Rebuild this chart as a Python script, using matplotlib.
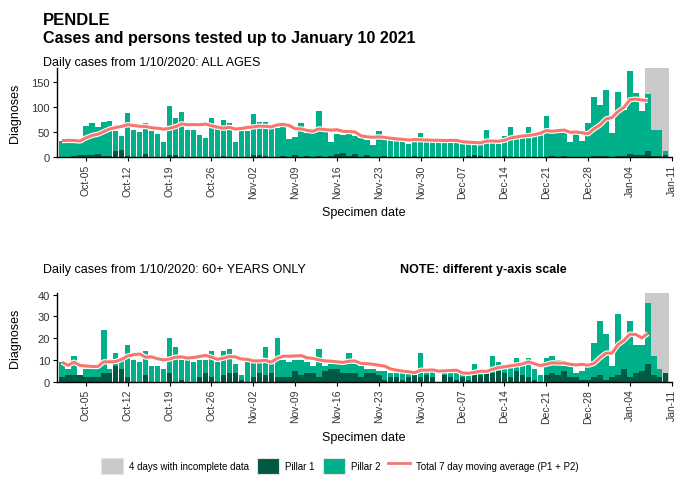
import numpy as np
import pandas as pd
import matplotlib
matplotlib.use('Agg')
import matplotlib.pyplot as plt
import matplotlib.dates as mdates
import matplotlib.patheffects as pe
from matplotlib.patches import Patch
from matplotlib.lines import Line2D

plt.rcParams['font.family'] = ['Liberation Sans', 'DejaVu Sans']

days = pd.date_range('2020-10-01', '2021-01-10', freq='D')
tick_days = pd.date_range('2020-10-05', '2021-01-11', freq='7D')

# daily totals (pillar 1 + pillar 2), all ages
all_total = [33, 34, 33, 29, 63, 67, 61, 69, 72, 53, 43,
             88, 55, 50, 67, 53, 47, 30,
             101, 77, 89, 55, 55, 45, 39,
             78, 58, 73, 68, 31, 53, 53,
             85, 70, 70, 60, 58, 61, 37,
             40, 68, 49, 49, 91, 50, 30,
             46, 45, 47, 43, 38, 35, 24,
             52, 36, 36, 34, 32, 26, 30,
             49, 33, 33, 32, 30, 28, 29,
             30, 28, 28, 27, 55, 29, 26,
             42, 61, 41, 41, 61, 42, 44,
             81, 51, 51, 48, 30, 46, 33,
             67, 120, 104, 133, 48, 129, 93,
             172, 128, 92, 125, 55, 55, 12]
all_p1 = [1, 1, 2, 4, 5, 4, 6, 3, 2, 12, 14,
          2, 1, 1, 6, 1, 1, 1,
          4, 4, 1, 1, 1, 1, 1,
          1, 1, 2, 1, 1, 1, 1,
          5, 4, 2, 1, 1, 2, 1,
          4, 1, 3, 1, 2, 1, 2,
          6, 8, 2, 6, 1, 4, 1,
          1, 3, 1, 1, 1, 1, 2,
          1, 1, 1, 1, 0, 1, 1,
          1, 2, 5, 3, 1, 1, 1,
          2, 1, 1, 1, 1, 1, 1,
          1, 2, 1, 3, 1, 1, 1,
          1, 2, 2, 3, 1, 2, 3,
          6, 4, 5, 12, 2, 2, 5]

# daily totals, 60+ years
old_total = [9, 6, 12, 3, 6, 6, 7, 24, 6, 13, 10,
             17, 10, 9, 14, 7, 7, 6,
             20, 16, 10, 10, 9, 10, 10,
             14, 9, 14, 15, 8, 3, 9,
             9, 9, 16, 9, 20, 10, 9,
             10, 10, 9, 7, 15, 7, 8,
             8, 8, 13, 8, 7, 6, 6,
             5, 5, 4, 4, 4, 4, 3,
             13, 5, 5, 0, 5, 5, 4,
             4, 4, 8, 4, 4, 12, 9,
             7, 7, 11, 7, 11, 6, 3,
             11, 12, 10, 7, 7, 4, 5,
             8, 18, 28, 22, 7, 31, 19,
             28, 17, 17, 36, 12, 6, 4]
old_p1 = [2, 3, 3, 3, 2, 2, 2, 4, 4, 7, 6,
          2, 0, 0, 3, 0, 0, 0,
          4, 0, 1, 0, 0, 2, 4,
          2, 0, 3, 4, 4, 1, 0,
          2, 4, 3, 4, 2, 2, 2,
          5, 3, 4, 4, 2, 5, 6,
          6, 4, 4, 4, 2, 4, 4,
          3, 1, 2, 2, 1, 2, 3,
          2, 3, 2, 0, 3, 2, 1,
          2, 1, 4, 3, 4, 4, 5,
          4, 2, 5, 3, 2, 1, 0,
          3, 4, 3, 5, 2, 2, 1,
          1, 2, 3, 1, 2, 3, 6,
          2, 4, 5, 8, 3, 2, 4]

incomplete_from = pd.Timestamp('2021-01-06 12:00')
incomplete_to = pd.Timestamp('2021-01-10 12:00')
ma_until = pd.Timestamp('2021-01-07')

col_p1 = '#005a43'
col_p2 = '#00b08a'
col_grey = '#cacaca'
col_line = '#f8766d'


def draw_panel(ax, total, p1, ymax, yticks):
    total = np.array(total, dtype=float)
    p1 = np.array(p1, dtype=float)
    p2 = total - p1
    ax.axvspan(incomplete_from, incomplete_to, color=col_grey, lw=0, zorder=0)
    ax.bar(days, p1, width=0.9, color=col_p1, lw=0, zorder=2)
    ax.bar(days, p2, bottom=p1, width=0.9, color=col_p2, lw=0, zorder=2)
    ma = pd.Series(total, index=days).rolling(7, min_periods=1).mean()
    ma = ma[:ma_until]
    ax.plot(ma.index, ma.values, color=col_line, lw=2.2, zorder=3,
            solid_capstyle='butt',
            path_effects=[pe.Stroke(linewidth=3.8, foreground='white'), pe.Normal()])
    ax.set_xlim(days[0] - pd.Timedelta(hours=20), pd.Timestamp('2021-01-11 01:00'))
    ax.set_ylim(0, ymax)
    ax.set_yticks(yticks)
    ax.set_xticks(tick_days)
    ax.xaxis.set_major_formatter(mdates.DateFormatter('%b-%d'))
    ax.tick_params(axis='x', rotation=90, labelsize=7.5, length=3, width=0.8,
                   colors='black', labelcolor='#333333', pad=2)
    ax.tick_params(axis='y', labelsize=8, length=3, width=0.8,
                   colors='black', labelcolor='#333333', pad=2)
    for s in ['top', 'right']:
        ax.spines[s].set_visible(False)
    for s in ['left', 'bottom']:
        ax.spines[s].set_linewidth(1.0)
    ax.set_facecolor('white')


W, H = 674, 485
fig = plt.figure(figsize=(W / 100, H / 100), dpi=100)

ax1 = fig.add_axes([57 / W, (H - 158.3) / H, 615 / W, 89.3 / H])
ax2 = fig.add_axes([57 / W, (H - 382.7) / H, 615 / W, 88.7 / H])

draw_panel(ax1, all_total, all_p1, 177, [0, 50, 100, 150])
draw_panel(ax2, old_total, old_p1, 40.8, [0, 10, 20, 30, 40])

# titles and subtitles
fig.text(43 / W, (H - 25) / H, 'PENDLE', fontsize=12, fontweight='bold')
fig.text(43 / W, (H - 42.5) / H, 'Cases and persons tested up to January 10 2021',
         fontsize=11.6, fontweight='bold')
fig.text(43 / W, (H - 66.5) / H, 'Daily cases from 1/10/2020: ALL AGES', fontsize=9)
fig.text(43 / W, (H - 273) / H, 'Daily cases from 1/10/2020: 60+ YEARS ONLY', fontsize=9)
fig.text(400 / W, (H - 273) / H, 'NOTE: different y-axis scale', fontsize=9,
         fontweight='bold')

# axis titles
for yc, xl in [(113.5, 216), (338.5, 441)]:
    fig.text(15 / W, (H - yc) / H, 'Diagnoses', rotation=90, fontsize=9,
             ha='center', va='center')
    fig.text(364 / W, (H - xl) / H, 'Specimen date', fontsize=9, ha='center')

handles = [
    Patch(facecolor=col_grey, edgecolor='#e4e4e4', lw=0.8),
    Patch(facecolor=col_p1, edgecolor='#e4e4e4', lw=0.8),
    Patch(facecolor=col_p2, edgecolor='#e4e4e4', lw=0.8),
    Line2D([0], [0], color=col_line, lw=2),
]
labels = ['4 days with incomplete data', 'Pillar 1', 'Pillar 2',
          'Total 7 day moving average (P1 + P2)']
fig.legend(handles, labels, loc='center', bbox_to_anchor=(340 / W, 18 / H),
           ncol=4, frameon=False, fontsize=7, handlelength=2.3,
           handleheight=2.3, handletextpad=0.6, columnspacing=0.8,
           borderaxespad=0)

fig.savefig('out.png', dpi=100, facecolor='white')
